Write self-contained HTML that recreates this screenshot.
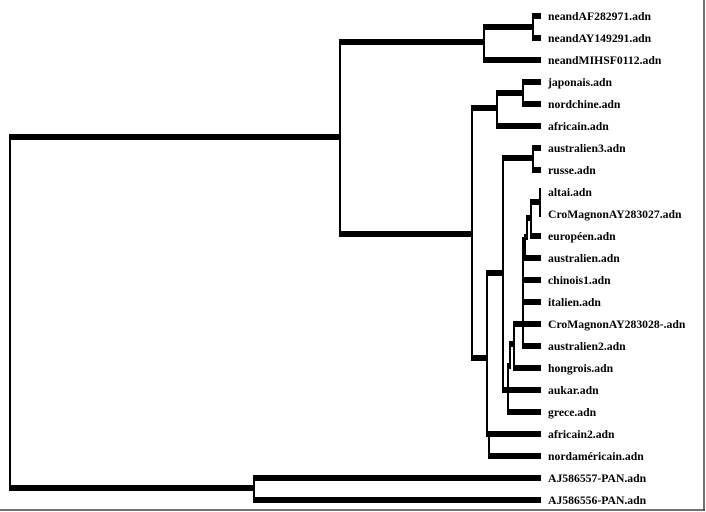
<!DOCTYPE html>
<html><head><meta charset="utf-8"><style>
html,body{margin:0;padding:0;background:#fff;}
svg{display:block}
text{font-family:"Liberation Serif",serif;font-weight:bold;font-size:11.7px;fill:#000}
</style></head><body>
<svg width="706" height="512" viewBox="0 0 706 512" xmlns="http://www.w3.org/2000/svg">
<rect x="0" y="0" width="706" height="512" fill="#fff"/>
<line x1="704" y1="0" x2="704" y2="511" stroke="#444" stroke-width="1.5"/>
<line x1="0" y1="510" x2="705" y2="510" stroke="#444" stroke-width="1.5"/>
<g stroke="#000" stroke-width="6" fill="none">
<line x1="10" y1="137" x2="340" y2="137"/>
<line x1="10" y1="488" x2="254" y2="488"/>
<line x1="254" y1="478" x2="541" y2="478"/>
<line x1="254" y1="500" x2="541" y2="500"/>
<line x1="340" y1="42" x2="484" y2="42"/>
<line x1="484" y1="27" x2="533" y2="27"/>
<line x1="533" y1="16" x2="541" y2="16"/>
<line x1="533" y1="38" x2="541" y2="38"/>
<line x1="484" y1="60" x2="541" y2="60"/>
<line x1="340" y1="234" x2="472" y2="234"/>
<line x1="472" y1="108" x2="497" y2="108"/>
<line x1="497" y1="93" x2="523" y2="93"/>
<line x1="523" y1="82" x2="541" y2="82"/>
<line x1="523" y1="104" x2="541" y2="104"/>
<line x1="497" y1="126" x2="541" y2="126"/>
<line x1="472" y1="358" x2="487" y2="358"/>
<line x1="487" y1="273" x2="503" y2="273"/>
<line x1="503" y1="158" x2="533" y2="158"/>
<line x1="533" y1="148" x2="541" y2="148"/>
<line x1="533" y1="170" x2="541" y2="170"/>
<line x1="531" y1="202" x2="540" y2="202"/>
<line x1="527" y1="218" x2="531" y2="218"/>
<line x1="531" y1="236" x2="541" y2="236"/>
<line x1="525" y1="237" x2="527" y2="237"/>
<line x1="525" y1="258" x2="541" y2="258"/>
<line x1="523" y1="280" x2="541" y2="280"/>
<line x1="523" y1="302" x2="541" y2="302"/>
<line x1="523" y1="346" x2="541" y2="346"/>
<line x1="510" y1="344" x2="514" y2="344"/>
<line x1="514" y1="324" x2="541" y2="324"/>
<line x1="514" y1="368" x2="541" y2="368"/>
<line x1="508" y1="366" x2="511" y2="366"/>
<line x1="502" y1="390" x2="541" y2="390"/>
<line x1="508" y1="412" x2="541" y2="412"/>
<line x1="487" y1="434" x2="541" y2="434"/>
<line x1="489" y1="456" x2="541" y2="456"/>
</g>
<g stroke="#000" stroke-width="2" fill="none">
<line x1="10" y1="134" x2="10" y2="491"/>
<line x1="254" y1="475" x2="254" y2="503"/>
<line x1="340" y1="39" x2="340" y2="237"/>
<line x1="484" y1="24" x2="484" y2="63"/>
<line x1="533" y1="13" x2="533" y2="41"/>
<line x1="472" y1="105" x2="472" y2="361"/>
<line x1="497" y1="90" x2="497" y2="129"/>
<line x1="523" y1="79" x2="523" y2="107"/>
<line x1="487" y1="270" x2="487" y2="437"/>
<line x1="489" y1="434" x2="489" y2="459"/>
<line x1="503" y1="155" x2="503" y2="393"/>
<line x1="533" y1="145" x2="533" y2="173"/>
<line x1="540" y1="188" x2="540" y2="217"/>
<line x1="531" y1="199" x2="531" y2="239"/>
<line x1="527" y1="215" x2="527" y2="240"/>
<line x1="525" y1="234" x2="525" y2="261"/>
<line x1="523" y1="237" x2="523" y2="349"/>
<line x1="514" y1="321" x2="514" y2="371"/>
<line x1="510" y1="341" x2="510" y2="369"/>
<line x1="508" y1="363" x2="508" y2="415"/>
</g>
<g>
<text x="548" y="20">neandAF282971.adn</text>
<text x="548" y="42">neandAY149291.adn</text>
<text x="548" y="64">neandMIHSF0112.adn</text>
<text x="548" y="86">japonais.adn</text>
<text x="548" y="108">nordchine.adn</text>
<text x="548" y="130">africain.adn</text>
<text x="548" y="152">australien3.adn</text>
<text x="548" y="174">russe.adn</text>
<text x="548" y="196">altai.adn</text>
<text x="548" y="218">CroMagnonAY283027.adn</text>
<text x="548" y="240">européen.adn</text>
<text x="548" y="262">australien.adn</text>
<text x="548" y="284">chinois1.adn</text>
<text x="548" y="306">italien.adn</text>
<text x="548" y="328">CroMagnonAY283028-.adn</text>
<text x="548" y="350">australien2.adn</text>
<text x="548" y="372">hongrois.adn</text>
<text x="548" y="394">aukar.adn</text>
<text x="548" y="416">grece.adn</text>
<text x="548" y="438">africain2.adn</text>
<text x="548" y="460">nordaméricain.adn</text>
<text x="548" y="482">AJ586557-PAN.adn</text>
<text x="548" y="504">AJ586556-PAN.adn</text>
</g>
</svg>
</body></html>
